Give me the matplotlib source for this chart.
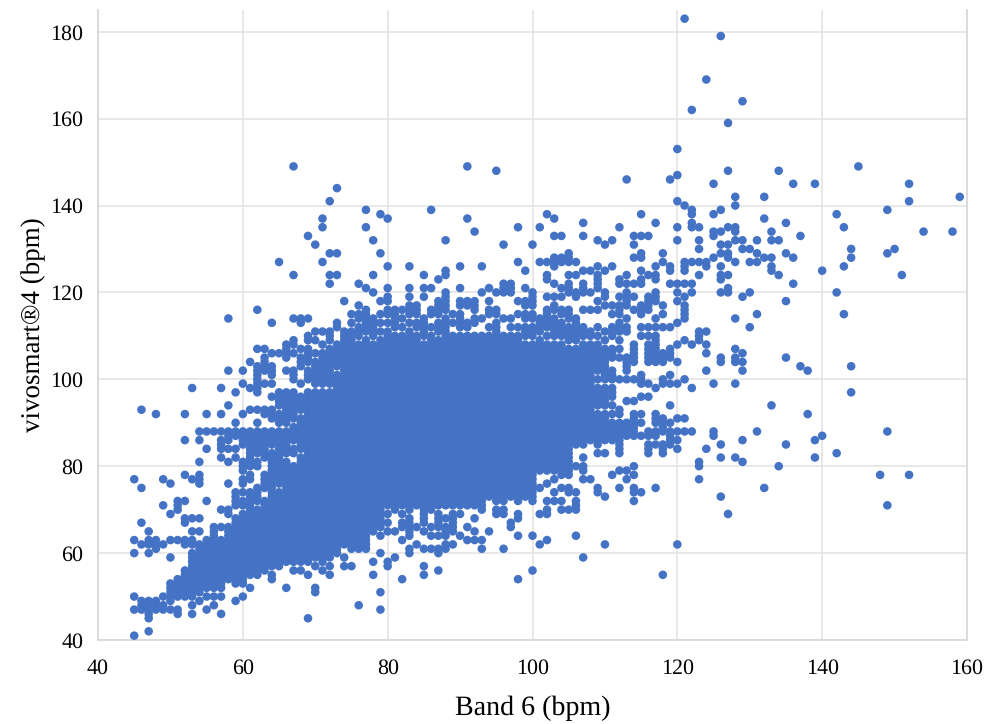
import matplotlib
matplotlib.use("Agg")
import matplotlib.pyplot as plt

# one entry per Band 6 reading, "a-b" is a solid run of vivosmart readings a..b
band6 = list(range(45, 138)) + [138, 139, 140, 142, 143, 144, 145, 148, 149, 150, 151, 152, 154, 158, 159]
vivosmart = [
    "41 47 50 60 63 77", "47-49 62 67 75 93", "42 45-49 60 62 63 65", "47-49 61-63 92", "47 48 50 62 71 77",
    "47 49-53 59 63 69 76", "46 47 50-54 63 70-72", "50-56 62 63 67 68 72 78 86 92", "46 48 50-60 62 63 65 68 77 98",
    "49 51-62 65 68 76-78 81 86 88",
    "47 50 52-63 72 84 88 92", "48 50 52-66 88", "46 50 52-63 66 70 82 84-86 88 92 98",
    "54-66 69 70 76 81 84 86-88 94 102 114", "49 53-68 71-74 82 84 87 88 90 97",
    "50 53-69 71 72 74 76 77 79-81 85-88 92 99 102", "52 55-74 77 78 80-88 93 98 104",
    "55-70 72-75 80 81 83-88 90 93 97-103 107 116", "56-72 75-78 82-88 92 93 99 102-105 107",
    "54 55 57-83 85-88 91-93 96 99 101-103 106 113",
    "57-74 76-88 90-92 94-97 106 127", "52 58-81 83-88 90-97 102 105-108",
    "56 58-80 83 84 86-89 91-97 100-102 106 108 109 114 124 149", "56 58-82 84-91 93-96 99 103-105 107 113 114",
    "45 55 58-97 100-102 104-107 109 110 114 133", "51 52 57 59-97 99-104 106 109 111 131",
    "56 58-97 99-106 108 111 127 135 137", "55 57 59-97 99-107 109-111 122 124 129 141",
    "60-101 103-108 112 113 124 129 144", "57 59 62-111 118",
    "57 61-111 113 115", "48 61-108 110-112 114 115 117 122", "61-109 111-116 121 135 139",
    "55 58 65-108 110-114 120 124 132", "47 51 60 64 66-109 111 113 115 118 129 138",
    "57 58 65 67 69 71-111 113 115 116 118 119 121 126 137", "59 65 70-110 112-116", "54 63 66 67 69 71-110 112 114 116",
    "60 61 64-68 70-111 113 115-117 119 121 126", "62 66 71-110 112 113 115-117",
    "55 57 61 65 67-108 110-114 119 121 124", "61 64 66 70-110 112 115 116 121 139", "56 60 61 64 66-69 71-109 111-113 115-118 123",
    "61 62 64-66 68 71-114 116-120 124 125 132", "62 65-69 71-110 113 115", "64 69 71-110 112-115 117 118 121 126",
    "63 66 71-110 112 113 117 118 137 149", "63 65 68 71-110 113 114 116-118 134",
    "61 63 70-110 114 120 126", "65 73-110 112 115 116 118 121",
    "69 70 72-113 115 116 120 148", "61 69 70 72-110 114 120-122 131", "66 67 73-110 112 114 120-122",
    "54 64 68 69 72-110 112 115 118 127 135", "73-108 110-112 114 115 117 118 121 125",
    "56 64 72-108 110-112 114 115 117-120 131", "62 69 75 79-109 111-114 127 135",
    "63 69 70 72 76 79-108 110 112-116 119 123 124 127 138", "72 74 77 79-108 110-114 116 117 119 122 126-128 133 137",
    "70 72 75 78-108 110-113 115 116 119 121 127 128 133",
    "70 74 75 78-107 109-112 114-116 120-122 124 127-129", "64 70-72 74 80 85-107 109-114 119 120 124 127",
    "59 77 79 80 82 85-108 110-112 116 120-122 125 133 136", "77 86-108 110 111 116 120 125",
    "74 75 83 85-92 94-98 100 102-108 110 112 116 118 121-124 126 132",
    "62 73 83 86-92 94-98 100-107 109 111 117 119 120 125 131", "78 86-90 92 94 96-98 100-102 105-107 110-112 115 117 126 132",
    "75 79 83-90 92 93 100 105 107 109 111-113 115-117 119 122 123 135",
    "77 79 87-90 95 100 102-105 111 112 114 117-120 122 124 146",
    "72 74 75 78 80 87-92 95 100 104-108 116 119 122 128 131 133",
    "74 87 90 92 96 99-101 110 112 115-117 122 123 125 128 129 133 138", "83-85 87 88 96 99 104-108 110 112 116-119 124 133",
    "75 85 87 88 90-92 98 104-110 112 114 118-120 123 124 126 136", "55 83-85 88-91 99 100 104-106 112 115 117 127 129",
    "85-88 90 94 99 101 105-107 112 122 125 126 146", "62 84 86 88 91 99 104 108 113 118 120 122 132 135 141 147 153",
    "88 91 100 109 114-117 119 122 125-127 140 183", "88 98 108 120 122 127 135 136 138 139 162",
    "77 80 81 109-111 124 127 130 132 135", "84 102 106 108 111 126 127 169", "87 88 99 128 133 134 138 145",
    "73 82 85 104 105 120 123 124 126 129 131 134 139 179", "69 120 121 124 128 129 131 135 148 159",
    "82 99 104 105 107 114 127 132 134 135 140 142", "81 86 102 104 106 119 130 132 164", "112 120 127 130",
    "88 115 127 129 132", "75 128 137 142", "94 125 126 128 132 134", "80 124 132 148", "85 105 118 129 136",
    "122 128 145", "103 133",
    "92 102", "82 86 145", "87 125", "83 120 138", "115 126 135", "97 103 128 130", "149", "78", "71 88 129 139",
    "130", "124", "78 141 145", "134", "134", "142",
]

xs, ys = [], []
for x, col in zip(band6, vivosmart):
    for tok in col.split():
        if "-" in tok:
            lo, hi = map(int, tok.split("-"))
        else:
            lo = hi = int(tok)
        for y in range(lo, hi + 1):
            xs.append(x)
            ys.append(y)

plt.rcParams["font.family"] = ["Liberation Serif", "DejaVu Sans"]
plt.rcParams["text.hinting"] = "no_hinting"
plt.rcParams["text.hinting_factor"] = 1

fig = plt.figure(figsize=(9.97, 7.24), dpi=100)
ax = fig.add_axes([98 / 997, 1 - 640 / 724, 869 / 997, 630 / 724])
ax.scatter(xs, ys, s=38, color="#4472C4", edgecolors="none", zorder=3, clip_on=False)

ax.set_xlim(40, 160)
ax.set_ylim(40, 185)
ax.set_xticks(range(40, 161, 20))
ax.set_yticks(range(40, 181, 20))
ax.grid(True, color="#E2E2E2", linewidth=1.1)
ax.set_axisbelow(True)
ax.spines["top"].set_visible(False)
for side in ["left", "bottom", "right"]:
    ax.spines[side].set_color("#D9D9D9")
    ax.spines[side].set_linewidth(1.3)
ax.tick_params(length=0, labelsize=16, colors="black")
ax.tick_params(axis="y", pad=10.5)
ax.tick_params(axis="x", pad=13.5)
ax.set_xlabel("Band 6 (bpm)", fontsize=19.8, labelpad=12)
ax.set_ylabel("vivosmart®4 (bpm)", fontsize=19.6, labelpad=3)

fig.savefig("out.png", dpi=100)
